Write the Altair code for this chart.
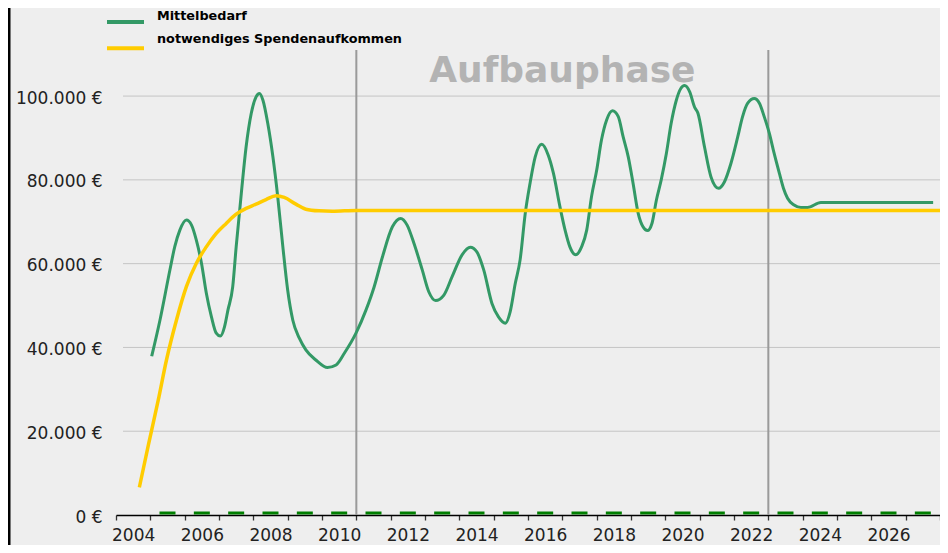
import altair as alt
import pandas as pd

# ---------------- data ----------------
green_years = [2004.54, 2004.78, 2005.07, 2005.21, 2005.36, 2005.55, 2005.70, 2005.84, 2005.99, 2006.13,
               2006.28, 2006.42, 2006.54, 2006.66, 2006.76, 2006.90, 2007.00, 2007.15, 2007.29, 2007.44,
               2007.58, 2007.68, 2007.78, 2007.92, 2008.07, 2008.21, 2008.36, 2008.50, 2008.65, 2008.84,
               2009.03, 2009.32, 2009.66, 2009.91, 2010.15, 2010.49, 2010.78, 2011.02, 2011.26, 2011.55,
               2011.79, 2011.98, 2012.18, 2012.42, 2012.61, 2012.81, 2013.05, 2013.29, 2013.58, 2013.82,
               2014.01, 2014.21, 2014.45, 2014.64, 2014.84, 2014.98, 2015.13, 2015.27, 2015.42, 2015.56,
               2015.71, 2015.90, 2016.09, 2016.24, 2016.43, 2016.58, 2016.72, 2016.89, 2017.06, 2017.21,
               2017.35, 2017.50, 2017.64, 2017.79, 2017.96, 2018.13, 2018.27, 2018.42, 2018.56, 2018.71,
               2018.85, 2018.98, 2019.11, 2019.24, 2019.38, 2019.53, 2019.67, 2019.82, 2019.95, 2020.06,
               2020.21, 2020.35, 2020.45, 2020.64, 2020.83, 2021.05, 2021.22, 2021.41, 2021.61, 2021.75,
               2021.90, 2022.09, 2022.24, 2022.38, 2022.53, 2022.67, 2022.82, 2022.94, 2023.06, 2023.25,
               2023.45, 2023.64, 2024.03, 2027.30]
green_values = [37900, 46500, 58500, 64000, 68000, 70400, 69200, 65600, 60100, 53000,
                47300, 43400, 42700, 44900, 48900, 54500, 64000, 76800, 87900, 95900,
                99800, 100600, 99000, 93500, 85500, 76000, 64000, 53700, 46500, 42200,
                39400, 37000, 35200, 35800, 38600, 43400, 48900, 54500, 61600, 68800,
                70800, 69200, 64800, 58500, 53300, 51200, 52500, 56900, 62100, 63900,
                62800, 58500, 50500, 47300, 45800, 48500, 55300, 60900, 72000, 79200,
                85500, 88500, 85900, 81600, 73600, 68000, 64000, 62100, 64000, 68000,
                76000, 82300, 89500, 94300, 96500, 95100, 90300, 85500, 79200, 72000,
                68800, 67900, 69600, 75200, 80000, 86300, 93500, 99000, 101800, 102500,
                101000, 97400, 95900, 87900, 80700, 78000, 79500, 83900, 90300, 95100,
                98300, 99400, 98300, 95100, 91100, 86300, 81600, 78000, 75600, 74000,
                73400, 73400, 74600, 74600]

yellow_years = [2004.18, 2004.45, 2004.73, 2004.97, 2005.26, 2005.55, 2005.84, 2006.13, 2006.42, 2006.71,
                2007.00, 2007.29, 2007.58, 2007.87, 2008.16, 2008.40, 2008.74, 2009.03, 2009.42, 2009.80,
                2010.50, 2027.50]
yellow_values = [6600, 17000, 27400, 37000, 46500, 54500, 60100, 64000, 67200, 69600,
                 71800, 73200, 74200, 75300, 76200, 75800, 74200, 73000, 72600, 72500,
                 72700, 72700]

dash_years = list(range(2005, 2028))
dash_values = [0] * len(dash_years)

phase_lines = [2010.5, 2022.5]
phase_label = "Aufbauphase"
phase_label_x = [2016.5]
phase_label_y = [103400]

grid_values = [20000, 40000, 60000, 80000, 100000]
y_ticks = [0, 20000, 40000, 60000, 80000, 100000]
x_ticks = [2003.5 + i for i in range(25)]

series_names = ["Mittelbedarf", "notwendiges Spendenaufkommen"]
series_colors = ["#339966", "#ffcc00"]

# ---------------- layout ----------------
W, H = 824, 465
xscale = alt.Scale(domain=[2003.5, 2027.5], nice=False, zero=False)
yscale = alt.Scale(domain=[0, 111000], nice=False, zero=True)

xaxis = alt.Axis(
    values=x_ticks, title=None, grid=False,
    domainColor="black", domainWidth=1.6,
    tickColor="#333333", tickSize=5, tickWidth=1.3,
    labelExpr="((datum.value + 0.5) % 2 == 0 && datum.value < 2027) ? toString(datum.value + 0.5) : ''",
    labelOffset=W / 24 / 2, labelFont="DejaVu Sans", labelFontSize=17, labelColor="#222222",
    labelPadding=20, labelBaseline="alphabetic", labelOverlap=False, labelBound=False, labelFlush=False,
)
yaxis = alt.Axis(
    values=y_ticks, title=None, grid=False, domain=False, ticks=False,
    labelPadding=14, labelOffset=2,
    labelExpr="replace(format(datum.value, ','), ',', '.') + ' €'",
    labelFont="DejaVu Sans", labelFontSize=17, labelColor="#222222",
)


def X(f):
    return alt.X(f, type="quantitative", scale=xscale, axis=xaxis)


def Y(f):
    return alt.Y(f, type="quantitative", scale=yscale, axis=yaxis)


green_df = pd.DataFrame({"year": green_years, "value": green_values})
yellow_df = pd.DataFrame({"year": yellow_years, "value": yellow_values})
dash_df = pd.DataFrame({"year": dash_years, "value": dash_values})
grid_df = pd.DataFrame({"v": grid_values})
phase_df = pd.DataFrame({"x": phase_lines})
label_df = pd.DataFrame({"x": phase_label_x, "y": phase_label_y, "t": [phase_label]})
one = pd.DataFrame({"a": [0]})

grid = alt.Chart(grid_df).mark_rule(color="#c4c4c4", strokeWidth=1).encode(
    y=Y("v"), x=alt.value(7), x2=alt.value(W)
)
vlines = alt.Chart(phase_df).mark_rule(color="#9a9a9a", strokeWidth=2).encode(
    x=X("x"), y=alt.value(0), y2=alt.value(H)
)
frame = alt.Chart(one).mark_rule(color="black", strokeWidth=2.5).encode(
    x=alt.value(-106.75), y=alt.value(-42), y2=alt.value(H + 30)
)
green = alt.Chart(green_df).mark_line(color=series_colors[0], strokeWidth=3, interpolate="monotone").encode(
    x=X("year"), y=Y("value")
)
yellow = alt.Chart(yellow_df).mark_line(color=series_colors[1], strokeWidth=3.5, interpolate="monotone").encode(
    x=X("year"), y=Y("value")
)
dashes = alt.Chart(dash_df).mark_tick(
    orient="horizontal", size=16, thickness=3, color="#007f00", opacity=1, yOffset=-2
).encode(x=X("year"), y=Y("value"))
phase_text = alt.Chart(label_df).mark_text(
    font="DejaVu Sans", fontWeight="bold", fontSize=36, color="#b3b3b3",
    align="center", baseline="alphabetic"
).encode(x=X("x"), y=Y("y"), text="t:N")

layers = [grid, vlines, frame, green, yellow, dashes, phase_text]

text_rows = [-34.5, -11.5]
swatch_rows = [-28.0, -1.7]
for i, name in enumerate(series_names):
    ldf = pd.DataFrame({"name": [name]})
    layers.append(
        alt.Chart(ldf).mark_rule(color=series_colors[i], strokeWidth=4).encode(
            x=alt.value(-9), x2=alt.value(28), y=alt.value(swatch_rows[i])
        )
    )
    layers.append(
        alt.Chart(ldf).mark_text(
            font="DejaVu Sans", fontWeight="bold", fontSize=12.8, color="black",
            align="left", baseline="middle"
        ).encode(x=alt.value(41), y=alt.value(text_rows[i]), text="name:N")
    )

chart = alt.layer(*layers).properties(
    width=W, height=H,
    background="#eeeeee",
    autosize=alt.AutoSizeParams(type="none"),
    padding={"left": 108, "top": 42, "right": 0, "bottom": 30},
).configure_view(strokeWidth=0)

chart.save("out.html", embed_options={"renderer": "svg", "actions": False})
